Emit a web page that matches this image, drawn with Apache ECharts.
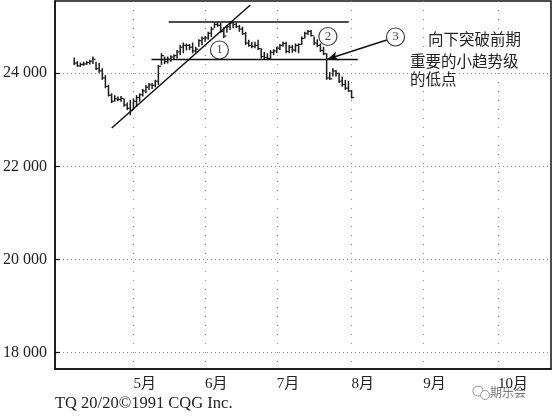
<!DOCTYPE html>
<html><head><meta charset="utf-8">
<script src="https://cdn.jsdelivr.net/npm/echarts@6/dist/echarts.min.js"></script>
<style>html,body{margin:0;padding:0;background:#fff}#c{width:554px;height:420px}</style>
</head><body><div id="c"></div>
<script>
// daily price bars (trading-day order)
const highs  = [24340,24260,24230,24250,24260,24290,24360,24250,24220,24110,23960,23750,23570,23530,23500,23510,23460,23370,23430,23460,23530,23570,23660,23750,23790,23790,23860,24180,24430,24360,24360,24390,24410,24500,24610,24660,24640,24630,24660,24570,24730,24790,24800,24890,25000,25090,25090,25080,24990,25040,25110,25110,25080,25040,25000,24890,24720,24680,24680,24720,24540,24460,24430,24500,24520,24570,24630,24680,24680,24610,24610,24640,24640,24790,24890,24930,24930,24790,24730,24640,24570,24430,24030,24110,24070,24010,23930,23860,23840,23640];
const lows   = [24180,24140,24140,24160,24180,24190,24200,24070,24010,23860,23680,23500,23360,23390,23400,23390,23280,23210,23100,23210,23280,23390,23500,23570,23640,23660,23700,23750,24180,24200,24210,24250,24290,24320,24390,24430,24490,24500,24430,24440,24570,24610,24680,24720,24780,24970,25000,24870,24760,24870,24930,24970,24970,24890,24820,24610,24570,24540,24540,24500,24320,24300,24290,24290,24390,24430,24500,24570,24430,24430,24440,24460,24430,24610,24750,24820,24790,24610,24560,24460,24390,23860,23860,23930,23930,23790,23710,23640,23600,23460];
const closes = [24220,24160,24190,24200,24230,24260,24300,24100,24050,23900,23720,23530,23400,23450,23440,23460,23320,23250,23200,23400,23480,23540,23620,23700,23750,23740,23830,24150,24380,24250,24300,24350,24380,24460,24560,24600,24600,24560,24480,24520,24700,24750,24760,24860,24950,25050,25030,24900,24800,25000,25080,25050,25000,24950,24850,24650,24600,24580,24600,24530,24360,24340,24320,24450,24480,24540,24600,24640,24470,24560,24500,24600,24620,24750,24860,24900,24810,24650,24600,24490,24420,23900,23880,24050,24000,23830,23760,23680,23620,23480];
// month labels and the trading-day index where each month starts
const monthLabels = ['5月','6月','7月','8月','9月','10月'];
const monthStart  = [19,42,65,89,112,136];
const yTicks = [18000,20000,22000,24000];
// drawn lines (trading-day index, price)
const trendLine = [[12.05,22825],[56.5,25467]];
const upperLine = [[30.3,25102],[88.1,25102]];
const lowerLine = [[24.8,24296],[91.0,24296]];
const arrowLine = [[100.3,24715],[81.4,24307]];
const circleMarks = [[46.6,24500,'1'],[81.4,24790,'2'],[103.1,24780,'3']];

const SERIF = '"Liberation Serif","Noto Sans CJK SC",serif';
const barData = highs.map((h,i)=>[i,h,lows[i],closes[i]]);

function renderItem(params, api){
  const x = api.value(0);
  const hi = api.coord([x, api.value(1)]);
  const lo = api.coord([x, api.value(2)]);
  const cl = api.coord([x, api.value(3)]);
  return {type:'group', children:[
    {type:'line', shape:{x1:hi[0],y1:hi[1],x2:lo[0],y2:lo[1]}, style:{stroke:'#1b1b1b', lineWidth:1.5}},
    {type:'line', shape:{x1:cl[0],y1:cl[1],x2:cl[0]+2.6,y2:cl[1]}, style:{stroke:'#1b1b1b', lineWidth:1.2}}
  ]};
}
const lineStyleBlack = {color:'#111', width:1.5, type:'solid'};
function seg(pts){ return {type:'line', data:pts, symbol:'none', lineStyle:lineStyleBlack, silent:true, z:3, animation:false}; }

const chart = echarts.init(document.getElementById('c'), null, {renderer:'canvas'});
chart.setOption({
  animation:false,
  backgroundColor:'#fff',
  grid:{left:53, right:3, top:1, bottom:51, show:true, borderColor:'#111', borderWidth:1.5, backgroundColor:'transparent'},
  xAxis:{type:'value', min:-6.17, max:153.0,
    axisLine:{show:true, onZero:false, lineStyle:{color:'#111', width:1.5}},
    axisTick:{show:false, customValues:monthStart},
    axisLabel:{customValues:monthStart, align:'left', margin:8, fontSize:15, color:'#222', fontFamily:SERIF,
      formatter:(v)=>{const k=monthStart.indexOf(Math.round(v)); return k>=0?monthLabels[k]:'';}},
    splitLine:{show:true, lineStyle:{color:'#8a8a8a', width:1, type:[1,8]}}
  },
  yAxis:{type:'value', min:17648, max:25553,
    axisLine:{show:true, onZero:false, lineStyle:{color:'#111', width:1.5}},
    axisTick:{show:true, inside:true, length:5, customValues:yTicks, lineStyle:{color:'#111', width:1.2}},
    axisLabel:{customValues:yTicks, margin:8, fontSize:16, color:'#222', fontFamily:SERIF,
      formatter:(v)=> String(v).replace(/\B(?=(\d{3})+$)/g,' ')},
    splitLine:{show:true, lineStyle:{color:'#8a8a8a', width:1, type:[1,3]}}
  },
  series:[
    {type:'custom', renderItem:renderItem, data:barData, encode:{x:0, y:[1,2,3]}, z:2, silent:true},
    seg(trendLine), seg(upperLine), seg(lowerLine),
    {type:'line', data:[], symbol:'none', silent:true,
      markLine:{silent:true, symbol:['none','arrow'], symbolSize:[7,10], label:{show:false},
        lineStyle:{color:'#111', width:1.4, type:'solid'},
        data:[[{coord:arrowLine[0]},{coord:arrowLine[1]}]]}},
    {type:'scatter', data:circleMarks.map(c=>[c[0],c[1],c[2]]), symbol:'circle', symbolSize:18, z:5, silent:true,
      itemStyle:{color:'#fff', borderColor:'#111', borderWidth:1.2},
      label:{show:true, position:'inside', formatter:(p)=>p.data[2], color:'#111', fontSize:13, fontFamily:SERIF}}
  ],
  graphic:[
    {type:'text', left:428, top:31, style:{text:'向下突破前期', font:'15.5px "Noto Sans CJK SC"', fill:'#222'}},
    {type:'text', left:410, top:53, style:{text:'重要的小趋势级', font:'15.5px "Noto Sans CJK SC"', fill:'#222'}},
    {type:'text', left:410, top:71, style:{text:'的低点', font:'15.5px "Noto Sans CJK SC"', fill:'#222'}},
    {type:'text', left:55, top:395, style:{text:'TQ 20/20©1991 CQG Inc.', font:'16.5px "Liberation Serif"', fill:'#222'}},
    {type:'text', left:490, top:386, style:{text:'期乐会', font:'12px "Noto Sans CJK SC"', fill:'#777'}},
    {type:'circle', shape:{cx:478, cy:391, r:5}, style:{fill:'none', stroke:'#999', lineWidth:1}},
    {type:'circle', shape:{cx:485, cy:395, r:4.5}, style:{fill:'#fff', stroke:'#999', lineWidth:1}}
  ]
});
</script></body></html>
